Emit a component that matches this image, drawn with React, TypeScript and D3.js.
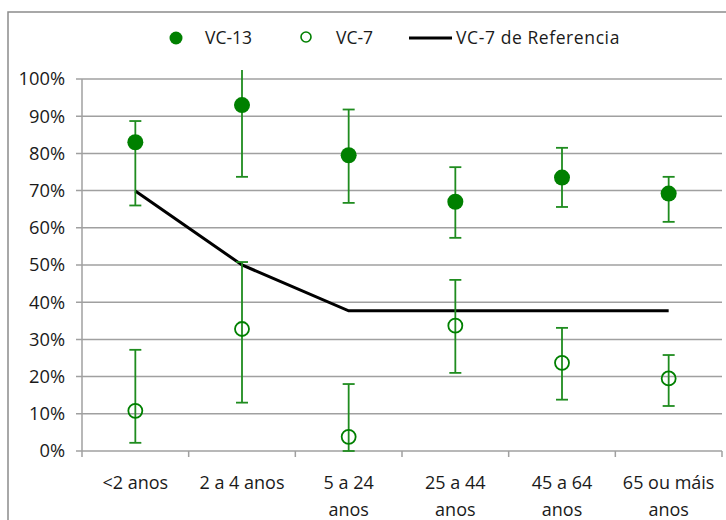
import React from "react";
import * as d3 from "d3";

const categories = ["<2 anos", "2 a 4 anos", "5 a 24 anos", "25 a 44 anos", "45 a 64 anos", "65 ou máis anos"];
const categoryLines = [["<2 anos"], ["2 a 4 anos"], ["5 a 24", "anos"], ["25 a 44", "anos"], ["45 a 64", "anos"], ["65 ou máis", "anos"]];
const vc13 = [0.83, 0.93, 0.795, 0.67, 0.735, 0.692];
const vc13Low = [0.66, 0.737, 0.667, 0.573, 0.656, 0.616];
const vc13High = [0.887, 1.024, 0.918, 0.763, 0.815, 0.737];
const vc7 = [0.108, 0.328, 0.038, 0.337, 0.237, 0.195];
const vc7Low = [0.022, 0.13, 0.0, 0.21, 0.138, 0.121];
const vc7High = [0.272, 0.508, 0.18, 0.46, 0.331, 0.258];
const reference = [0.699, 0.5, 0.377, 0.377, 0.377, 0.377];
const yTicks = [0, 0.1, 0.2, 0.3, 0.4, 0.5, 0.6, 0.7, 0.8, 0.9, 1.0];

const FONT = "'Open Sans', sans-serif";
const GREEN = "#008000";
const BAR = "#1f8c1f";
const GRID = "#a0a0a0";

export default function App() {
  const W = 726, H = 520;
  const left = 82, right = 722, top = 79, bottom = 451;
  const x = d3.scaleBand<string>().domain(categories).range([left, right]);
  const y = d3.scaleLinear().domain([0, 1]).range([bottom, top]);
  const cx = (i: number) => (x(categories[i]) as number) + x.bandwidth() / 2;
  const line = d3.line<number>().x((_, i) => cx(i)).y((d) => y(d));
  const cap = 6;

  const errBar = (lo: number, hi: number, i: number, key: string, capTop = true) => (
    <g key={key} stroke={BAR} strokeWidth={1.8}>
      <line x1={cx(i)} x2={cx(i)} y1={y(lo)} y2={y(hi)} />
      <line x1={cx(i) - cap} x2={cx(i) + cap} y1={y(lo)} y2={y(lo)} />
      {capTop && <line x1={cx(i) - cap} x2={cx(i) + cap} y1={y(hi)} y2={y(hi)} />}
    </g>
  );

  return (
    <svg width={W} height={H} style={{ position: "absolute", left: 0, top: 0 }} fontFamily={FONT}>
      <rect x={0} y={0} width={W} height={H} fill="#fff" />
      <rect x={8} y={12} width={W + 10} height={H + 10} fill="none" stroke="#8c8c8c" strokeWidth={1.5} />
      {/* grid */}
      {yTicks.map((t) => (
        <g key={t}>
          <line x1={left - 6} x2={right} y1={y(t)} y2={y(t)} stroke={GRID} strokeWidth={1.5} />
          <text x={65} y={y(t)} dy="0.35em" textAnchor="end" fontSize={18.3} fill="#1a1a1a">
            {Math.round(t * 100)}%
          </text>
        </g>
      ))}
      <line x1={left} x2={left} y1={top} y2={bottom + 6} stroke={GRID} strokeWidth={1.5} />
      {categories.map((c) => (
        <line key={c} x1={(x(c) as number) + x.bandwidth()} x2={(x(c) as number) + x.bandwidth()} y1={bottom} y2={bottom + 6} stroke={GRID} strokeWidth={1.5} />
      ))}
      {categoryLines.map((ls, i) => (
        <text key={i} x={cx(i)} textAnchor="middle" fontSize={18} fill="#1a1a1a">
          {ls.map((l, j) => (
            <tspan key={j} x={cx(i)} y={489 + j * 27}>{l}</tspan>
          ))}
        </text>
      ))}
      {/* reference line */}
      <path d={line(reference) || ""} fill="none" stroke="#000" strokeWidth={3} />
      {/* error bars */}
      {vc13.map((_, i) => errBar(vc13Low[i], vc13High[i], i, "a" + i, vc13High[i] <= 1))}
      {vc7.map((_, i) => errBar(vc7Low[i], vc7High[i], i, "b" + i))}
      {/* markers */}
      {vc13.map((v, i) => (
        <circle key={"m13" + i} cx={cx(i)} cy={y(v)} r={8} fill={GREEN} />
      ))}
      {vc7.map((v, i) => (
        <circle key={"m7" + i} cx={cx(i)} cy={y(v)} r={7} fill="none" stroke={GREEN} strokeWidth={1.8} />
      ))}
      {/* legend */}
      <circle cx={176} cy={38} r={6.5} fill={GREEN} />
      <text x={205} y={38} dy="0.35em" fontSize={17.5} fill="#1a1a1a">VC-13</text>
      <circle cx={306} cy={37} r={5} fill="none" stroke={GREEN} strokeWidth={1.6} />
      <text x={336} y={38} dy="0.35em" fontSize={17.5} fill="#1a1a1a">VC-7</text>
      <line x1={409} x2={452} y1={38} y2={38} stroke="#000" strokeWidth={3} />
      <text x={456} y={38} dy="0.35em" fontSize={17.5} fill="#1a1a1a" letterSpacing={0.6}>
        VC-7 de<tspan dx={5}>Referencia</tspan>
      </text>
    </svg>
  );
}
